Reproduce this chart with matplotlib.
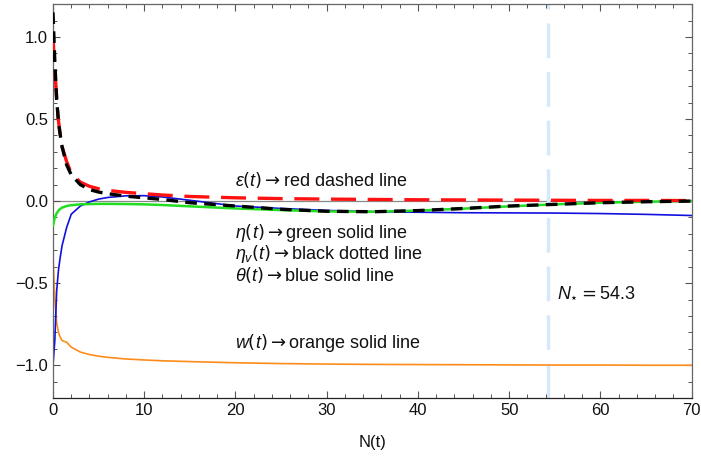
import matplotlib
matplotlib.use("Agg")
import matplotlib.pyplot as plt
from matplotlib.ticker import MultipleLocator, FuncFormatter

plt.rcParams['font.family'] = ['Liberation Sans', 'DejaVu Sans']
plt.rcParams['mathtext.fontset'] = 'custom'
plt.rcParams['mathtext.rm'] = 'DejaVu Sans'
plt.rcParams['mathtext.it'] = 'Liberation Sans:italic'
plt.rcParams['mathtext.fallback'] = 'stixsans'

# ---- data ----
N = [0, 0.2, 0.4, 0.6, 0.8, 1.0, 1.5, 2, 3, 4, 5, 6, 8, 10, 12, 15, 20, 25,
     30, 35, 40, 45, 50, 55, 60, 65, 70]
epsilon = [1.0, 0.8, 0.63, 0.49, 0.40, 0.33, 0.24, 0.17, 0.115, 0.09, 0.075,
           0.065, 0.053, 0.045, 0.037, 0.028, 0.02, 0.015, 0.012, 0.01, 0.008,
           0.007, 0.006, 0.005, 0.004, 0.004, 0.003]
eta_v = [1.15, 0.85, 0.62, 0.48, 0.40, 0.33, 0.22, 0.16, 0.10, 0.07, 0.055,
         0.045, 0.03, 0.02, 0.01, -0.01, -0.03, -0.05, -0.062, -0.065, -0.058,
         -0.045, -0.03, -0.02, -0.01, -0.004, 0.0]
eta = [-0.15, -0.1, -0.075, -0.058, -0.047, -0.04, -0.03, -0.025, -0.02,
       -0.018, -0.017, -0.017, -0.018, -0.02, -0.024, -0.032, -0.045, -0.055,
       -0.063, -0.065, -0.058, -0.046, -0.032, -0.02, -0.01, -0.004, 0.0]
theta = [-1.0, -0.85, -0.55, -0.42, -0.34, -0.27, -0.16, -0.08, -0.03,
         -0.005, 0.012, 0.022, 0.032, 0.033, 0.025, 0.005, -0.03, -0.045,
         -0.057, -0.064, -0.068, -0.071, -0.072, -0.073, -0.076, -0.081, -0.088]
w = [-0.33, -0.6, -0.74, -0.8, -0.83, -0.85, -0.86, -0.89, -0.92, -0.935,
     -0.945, -0.952, -0.962, -0.968, -0.973, -0.978, -0.985, -0.99, -0.993,
     -0.995, -0.996, -0.997, -0.998, -0.999, -0.999, -1.0, -1.0]
N_star = 54.3

labels = [r'$\epsilon(t)\rightarrow$red dashed line',
          r'$\eta(t)\rightarrow$green solid line',
          r'$\eta_{v}(t)\rightarrow$black dotted line',
          r'$\theta(t)\rightarrow$blue solid line',
          r'$w(t)\rightarrow$orange solid line']
label_pos = [(20.0, 0.128), (20.0, -0.195), (20.0, -0.323), (20.0, -0.451), (20.0, -0.866)]
nstar_label = r'$N_{\star}=$54.3'

fig = plt.figure(figsize=(7.01, 4.57), dpi=100)
ax = fig.add_axes([0.0756, 0.129, 0.911, 0.862])

ax.axhline(0, color='#888888', lw=0.9, zorder=1)
ax.axvline(N_star, color='#d6e9fb', lw=2.5, dashes=(10, 4), zorder=1)

ax.plot(N, w, color='#ff8c1a', lw=1.2, zorder=2)
ax.plot(N, theta, color='#1010e0', lw=1.2, zorder=2)
ax.plot(N, eta, color='#22dd22', lw=1.8, zorder=3)
ax.plot(N, epsilon, color='#ff1111', lw=2.4, dashes=(7.5, 3.5), zorder=4)
ax.plot(N, eta_v, color='black', lw=2.4, dashes=(3.5, 2.2), zorder=5)

for t, (x, y) in zip(labels, label_pos):
    ax.text(x, y, t, fontsize=13, va='center', ha='left', color='#111111')
ax.text(55.2, -0.56, nstar_label, fontsize=13, va='center', ha='left', color='#111111')

ax.set_xlim(0, 70)
ax.set_ylim(-1.2, 1.2)
ax.xaxis.set_major_locator(MultipleLocator(10))
ax.xaxis.set_minor_locator(MultipleLocator(2))
ax.yaxis.set_major_locator(MultipleLocator(0.5))
ax.yaxis.set_minor_locator(MultipleLocator(0.1))
ax.yaxis.set_major_formatter(FuncFormatter(lambda v, p: ('%.1f' % v).replace('-', '\u2212')))
ax.tick_params(which='both', direction='in', top=True, right=True, colors='#555555',
               labelcolor='#111111', labelsize=12)
ax.tick_params(which='major', length=5, width=0.8)
ax.tick_params(which='minor', length=3, width=0.7)
for s in ax.spines.values():
    s.set_color('#666666')
    s.set_linewidth(0.9)
ax.spines['bottom'].set_color('#222222')
ax.set_xlabel('N(t)', fontsize=12, color='#111111', labelpad=12)

fig.savefig('out.png', dpi=100)
